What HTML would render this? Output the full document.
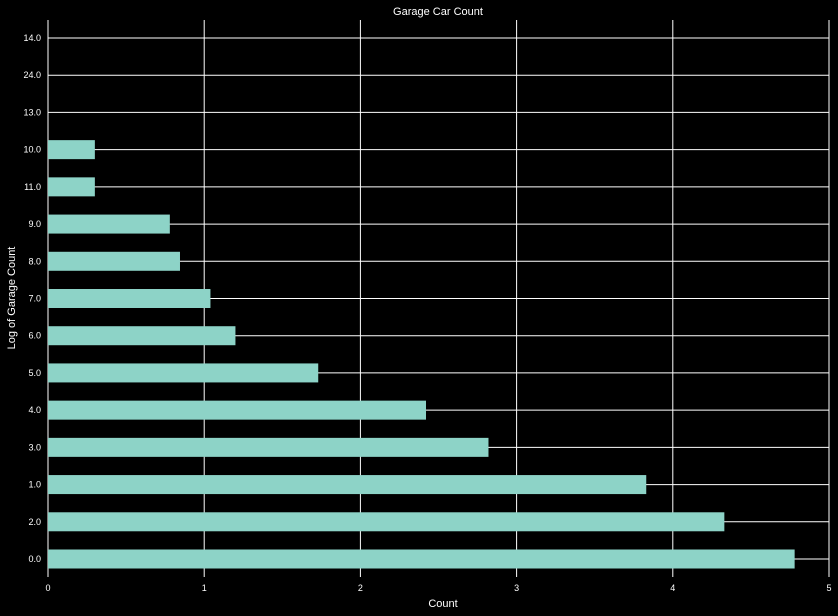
<!DOCTYPE html>
<html><head><meta charset="utf-8"><style>
html,body{margin:0;padding:0;background:#000;}
svg{display:block;font-family:"Liberation Sans",sans-serif;}
</style></head><body>
<svg id="chart" width="838" height="616">
<rect width="838" height="616" fill="#000"/>
<text x="438" y="15" fill="#fff" font-size="11" text-anchor="middle">Garage Car Count</text>
<text x="443" y="607" fill="#fff" font-size="11" text-anchor="middle">Count</text>
<text transform="translate(15,298) rotate(-90)" fill="#fff" font-size="11" text-anchor="middle">Log of Garage Count</text>
<g id="grid"></g><g id="bars"></g><g id="labels"></g>
</svg>
<script>
const categories=["0.0","2.0","1.0","3.0","4.0","5.0","6.0","7.0","8.0","9.0","11.0","10.0","13.0","24.0","14.0"];
const values=[4.78,4.33,3.83,2.82,2.42,1.73,1.20,1.04,0.845,0.78,0.30,0.30,0,0,0];
const xTicks=[0,1,2,3,4,5];
const X0=48,X1=829,XMAX=5,YBOT=559,YTOP=38;
const xs=v=>X0+(X1-X0)*v/XMAX;
const step=(YBOT-YTOP)/(categories.length-1);
const ys=i=>YBOT-i*step;
const NS="http://www.w3.org/2000/svg";
const grid=document.getElementById('grid'),bars=document.getElementById('bars'),labels=document.getElementById('labels');
function mk(t,a){const e=document.createElementNS(NS,t);for(const k in a)e.setAttribute(k,a[k]);return e;}
const BOT=577,TOP=20;
xTicks.forEach(t=>{
 const l=mk('line',{x1:xs(t),x2:xs(t),y1:TOP,y2:BOT,stroke:'#fff','stroke-width':1});
 
 
 grid.appendChild(l);
 const tx=mk('text',{x:xs(t),y:591,fill:'#fff','font-size':9,'text-anchor':'middle'});
 tx.textContent=t;
 
 
 labels.appendChild(tx);
});
categories.forEach((c,i)=>{
 const y=ys(i);
 const l=mk('line',{x1:X0,x2:X1,y1:y,y2:y,stroke:'#fff','stroke-width':1});
 
 
 grid.appendChild(l);
 const r=mk('rect',{x:X0,y:y-9.5,width:xs(values[i])-X0,height:19,fill:'#8dd3c7'});
 
 
 bars.appendChild(r);
 const tx=mk('text',{x:41,y:y+3,fill:'#fff','font-size':9,'text-anchor':'end'});
 tx.textContent=c;
 
 
 labels.appendChild(tx);
});
</script>
</body></html>
